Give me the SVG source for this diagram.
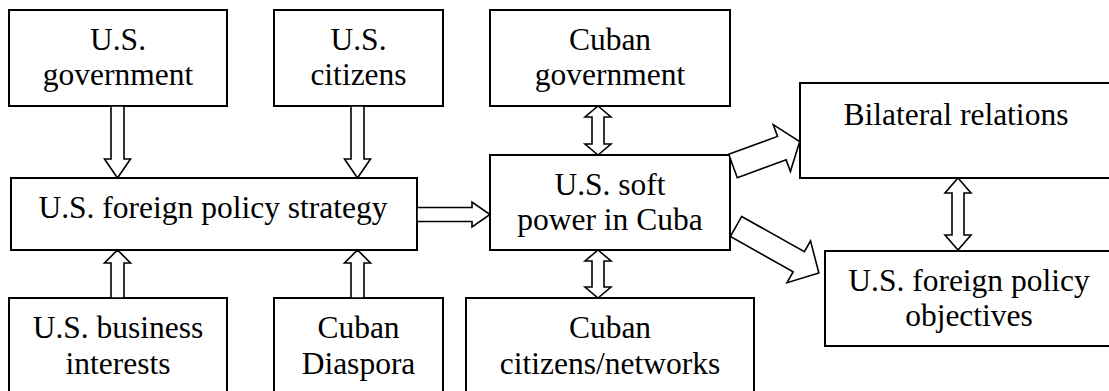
<svg xmlns="http://www.w3.org/2000/svg" width="1109" height="391" viewBox="0 0 1109 391">
<style>
.box{fill:#fff;stroke:#000;stroke-width:2}
.arr{fill:#fff;stroke:#000;stroke-width:1.6;stroke-linejoin:miter}
text{font-family:'Liberation Serif','Times New Roman',Times,serif;font-size:31.5px;fill:#000;text-anchor:middle}
</style>
<rect width="1109" height="391" fill="#fff"/>
<g id="n-usgov"><rect class="box" x="9" y="10" width="218" height="96"/><text x="118" y="50">U.S.</text><text x="118" y="85">government</text></g>
<g id="n-uscit"><rect class="box" x="274" y="10" width="169" height="96"/><text x="358.5" y="50">U.S.</text><text x="358.5" y="85">citizens</text></g>
<g id="n-cubgov"><rect class="box" x="490" y="10" width="240" height="96"/><text x="610" y="50">Cuban</text><text x="610" y="85">government</text></g>
<g id="n-bilat"><rect class="box" x="800" y="83" width="315" height="95"/><text x="956" y="125">Bilateral relations</text></g>
<g id="n-strat"><rect class="box" x="11" y="178" width="406" height="72"/><text x="213" y="218">U.S. foreign policy strategy</text></g>
<g id="n-soft"><rect class="box" x="490" y="155" width="240" height="95"/><text x="610" y="195">U.S. soft</text><text x="610" y="230">power in Cuba</text></g>
<g id="n-obj"><rect class="box" x="825" y="251" width="290" height="95"/><text x="969" y="291">U.S. foreign policy</text><text x="969" y="326">objectives</text></g>
<g id="n-bus"><rect class="box" x="9" y="298" width="218" height="100"/><text x="118" y="338">U.S. business</text><text x="118" y="374">interests</text></g>
<g id="n-dias"><rect class="box" x="274" y="298" width="169" height="100"/><text x="358.5" y="338">Cuban</text><text x="358.5" y="374">Diaspora</text></g>
<g id="n-cubcit"><rect class="box" x="466" y="298" width="288" height="100"/><text x="610" y="338">Cuban</text><text x="610" y="374">citizens/networks</text></g>
<g id="connectors">
<polygon class="arr" points="111,106 124,106 124,159 130.5,159 117.5,178 104.5,159 111,159"/>
<polygon class="arr" points="351,106 364,106 364,159 370.5,159 357.5,178 344.5,159 351,159"/>
<polygon class="arr" points="111,298 111,263 104.5,263 117.5,250 130.5,263 124,263 124,298"/>
<polygon class="arr" points="351,298 351,263 344.5,263 357.5,250 370.5,263 364,263 364,298"/>
<polygon class="arr" points="417,207.5 472,207.5 472,202 490,214.5 472,227 472,221.5 417,221.5"/>
<polygon class="arr" points="598,106 611,117 604,117 604,144 611,144 598,155 585,144 592,144 592,117 585,117"/>
<polygon class="arr" points="598,250 611,261 604,261 604,287 611,287 598,298 585,287 592,287 592,261 585,261"/>
<polygon class="arr" points="958,178 971,193 964,193 964,235 971,235 958,250 945,235 952,235 952,193 945,193"/>
<polygon class="arr" transform="translate(733,166) rotate(-20.1)" points="0,-12.5 52,-12.5 52,-25 71,0 52,25 52,12.5 0,12.5"/>
<polygon class="arr" transform="translate(736,226.5) rotate(29.3)" points="0,-11.5 72,-11.5 72,-24 95,0 72,24 72,11.5 0,11.5"/>
</g>
</svg>
